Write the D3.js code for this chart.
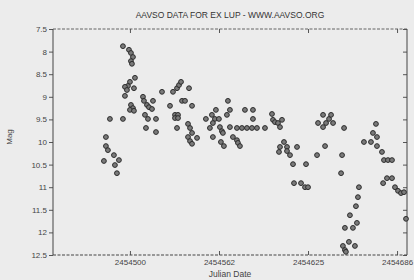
<!DOCTYPE html>
<html>
<head>
<meta charset="utf-8">
<script src="https://cdn.jsdelivr.net/npm/d3@7"></script>
<style>
  html, body { margin: 0; padding: 0; background: #ececec; }
  svg { display: block; font-family: "Liberation Sans", Arial, sans-serif; }
  .tick text { fill: #444; font-size: 8px; }
  .tick line { stroke: #555; }
  .domain { display: none; }
</style>
</head>
<body>
<div id="chart"></div>
<script>
var julianDates = [
  2454495.1, 2454499.3, 2454500.7, 2454502.1, 2454500.7, 2454501.4, 2454503.5, 2454500.0, 2454498.6, 2454496.5,
  2454497.9, 2454502.8, 2454496.5, 2454500.7, 2454502.1, 2454500.0, 2454502.8, 2454486.0, 2454495.1, 2454483.2,
  2454483.2, 2454484.6, 2454488.8, 2454492.3, 2454481.8, 2454489.5, 2454490.9, 2454509.1, 2454509.8, 2454511.9,
  2454513.3, 2454515.4, 2454516.1, 2454510.5, 2454512.6, 2454518.2, 2454511.2, 2454518.2, 2454522.4, 2454528.0,
  2454530.1, 2454532.9, 2454534.3, 2454535.7, 2454541.3, 2454531.5, 2454533.6, 2454531.5, 2454533.6, 2454532.9,
  2454536.4, 2454538.5, 2454543.4, 2454540.6, 2454542.0, 2454543.4, 2454540.6, 2454546.9, 2454542.0, 2454543.4,
  2454553.1, 2454557.3, 2454560.1, 2454559.4, 2454558.0, 2454562.2, 2454568.5, 2454569.9, 2454567.8, 2454562.9,
  2454564.3, 2454555.9, 2454558.0, 2454565.0, 2454569.9, 2454572.0, 2454574.8, 2454575.5, 2454563.6, 2454565.7,
  2454576.9, 2454580.4, 2454586.0, 2454586.0, 2454574.8, 2454578.3, 2454581.8, 2454585.3, 2454588.8, 2454594.4,
  2454599.3, 2454600.0, 2454601.4, 2454603.5, 2454606.3, 2454604.9, 2454604.2, 2454607.7, 2454604.9, 2454609.8,
  2454609.8, 2454611.9, 2454616.8, 2454614.0, 2454623.1, 2454614.7, 2454619.6, 2454622.4, 2454624.5, 2454630.8,
  2454631.5, 2454635.0, 2454639.2, 2454640.6, 2454637.1, 2454635.0, 2454642.0, 2454649.7, 2454636.4, 2454648.3,
  2454647.6, 2454660.1, 2454659.4, 2454658.0, 2454653.8, 2454658.7, 2454655.9, 2454650.3, 2454653.1, 2454648.9,
  2454657.3, 2454650.3, 2454651.0, 2454663.6, 2454668.5, 2454672.0, 2454669.9, 2454672.7, 2454672.7, 2454676.2,
  2454677.6, 2454680.4, 2454683.2, 2454677.0, 2454679.7, 2454683.2, 2454685.3, 2454687.4, 2454689.5, 2454691.6,
  2454693.0
];
var magnitudes = [
  7.88, 7.96, 8.03, 8.12, 8.21, 8.27, 8.58, 8.67, 8.76, 8.78,
  8.85, 8.81, 8.98, 9.18, 9.25, 9.29, 9.31, 9.49, 9.49, 9.89,
  10.09, 10.18, 10.29, 10.40, 10.42, 10.51, 10.69, 9.00, 9.09, 9.18,
  9.23, 9.27, 9.09, 9.40, 9.49, 9.49, 9.69, 9.78, 8.89, 9.20,
  8.89, 8.81, 8.74, 8.67, 8.81, 9.40, 9.40, 9.47, 9.47, 9.69,
  9.09, 9.09, 9.20, 9.60, 9.69, 9.80, 9.89, 9.91, 9.98, 10.04,
  9.49, 9.40, 9.29, 9.49, 9.58, 9.49, 9.09, 9.29, 9.40, 9.67,
  9.76, 9.69, 9.89, 9.80, 9.67, 9.89, 9.96, 10.02, 10.00, 10.09,
  10.09, 9.29, 9.29, 9.49, 9.69, 9.69, 9.69, 9.69, 9.69, 9.69,
  9.38, 9.51, 9.56, 9.58, 9.51, 9.67, 10.22, 10.00, 10.11, 10.11,
  10.20, 10.29, 10.11, 10.49, 10.49, 10.91, 10.91, 11.00, 11.00, 10.29,
  9.58, 9.40, 9.49, 9.40, 9.58, 9.67, 9.58, 9.69, 10.09, 10.29,
  10.69, 11.00, 11.22, 11.42, 11.62, 11.79, 11.90, 11.90, 12.21, 12.30,
  12.30, 12.39, 12.43, 10.00, 10.00, 9.60, 9.80, 9.89, 10.09, 10.22,
  10.40, 10.40, 10.40, 10.91, 10.80, 10.80, 11.00, 11.08, 11.13, 11.11,
  11.70
];

var dateDomain = [2454446.2, 2454693.7];
var dateTicks = [2454500, 2454562.25, 2454624.5, 2454686.75];
var dateTickLabels = ["2454500", "2454562", "2454625", "2454686"];
var magDomain = [7.5, 12.5];
var magTicks = [7.5, 8, 8.5, 9, 9.5, 10, 10.5, 11, 11.5, 12, 12.5];

var W = 414, H = 280;
var margin = {top: 29, right: 7, bottom: 25, left: 53};
var width = W - margin.left - margin.right,
    height = H - margin.top - margin.bottom;

var data = julianDates.map(function(d, i) { return {jd: d, mag: magnitudes[i]}; });

var x = d3.scaleLinear().domain(dateDomain).range([0, width]);
var y = d3.scaleLinear().domain(magDomain).range([0, height]);

var svg = d3.select("#chart").append("svg")
    .attr("width", W)
    .attr("height", H);

var g = svg.append("g")
    .attr("transform", "translate(" + margin.left + "," + margin.top + ")");

// left axis with labels, ticks pointing out
g.append("g")
    .call(d3.axisLeft(y).tickValues(magTicks).tickSize(4).tickPadding(2)
      .tickFormat(function(d) { return d; }));

// mirrored ticks on the right, pointing in
g.append("g")
    .attr("transform", "translate(" + width + ",0)")
    .call(d3.axisRight(y).tickValues(magTicks).tickSize(-4).tickFormat(""));

// bottom axis: inward ticks, labels below
g.append("g")
    .attr("transform", "translate(0," + height + ")")
    .call(d3.axisBottom(x).tickValues(dateTicks).tickSize(-4).tickPadding(4)
      .tickFormat(function(d, i) { return dateTickLabels[i]; }));

g.append("g")
    .call(d3.axisTop(x).tickValues(dateTicks).tickSize(-4).tickFormat(""));

// frame: solid sides, dashed top and bottom like the printout
g.append("line").attr("x1", 0).attr("x2", 0).attr("y1", 0).attr("y2", height)
    .attr("stroke", "#444").attr("stroke-width", 1);
g.append("line").attr("x1", width).attr("x2", width).attr("y1", 0).attr("y2", height)
    .attr("stroke", "#444").attr("stroke-width", 1);
g.append("line").attr("x1", 0).attr("x2", width).attr("y1", 0).attr("y2", 0)
    .attr("stroke", "#555").attr("stroke-width", 0.9).attr("stroke-dasharray", "3,1.5");
g.append("line").attr("x1", 0).attr("x2", width).attr("y1", height).attr("y2", height)
    .attr("stroke", "#444").attr("stroke-width", 1).attr("stroke-dasharray", "3,1.5");

g.selectAll(".obs")
    .data(data)
  .enter().append("circle")
    .attr("class", "obs")
    .attr("cx", function(d) { return x(d.jd); })
    .attr("cy", function(d) { return y(d.mag); })
    .attr("r", 2.4)
    .attr("fill", "#7a7a7a")
    .attr("stroke", "#2a2a2a")
    .attr("stroke-width", 1);

svg.append("text")
    .attr("x", margin.left + width / 2)
    .attr("y", 18)
    .attr("text-anchor", "middle")
    .attr("font-size", 8.5)
    .attr("fill", "#333")
    .text("AAVSO DATA FOR EX LUP - WWW.AAVSO.ORG");

svg.append("text")
    .attr("x", margin.left + width / 2)
    .attr("y", 277)
    .attr("text-anchor", "middle")
    .attr("font-size", 8.5)
    .attr("fill", "#444")
    .text("Julian Date");

svg.append("text")
    .attr("transform", "translate(12,137) rotate(-90)")
    .attr("text-anchor", "middle")
    .attr("font-size", 8)
    .attr("fill", "#444")
    .text("Mag");
</script>
</body>
</html>
